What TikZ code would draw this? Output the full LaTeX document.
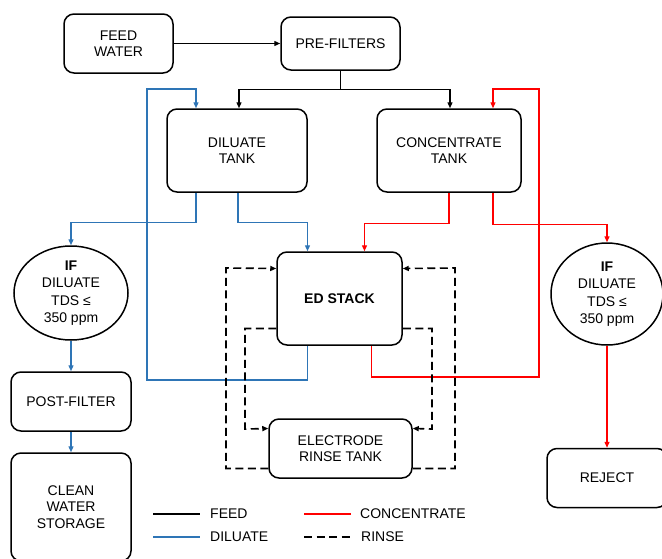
\documentclass[tikz,border=0pt]{standalone}
\usepackage{fontspec}
\setmainfont{Liberation Sans}
\usetikzlibrary{arrows.meta, shapes.geometric}
\definecolor{dilblue}{HTML}{2E75B6}
\definecolor{concred}{HTML}{FF0000}

\begin{document}
\begin{tikzpicture}[
					x=1pt, y=-1pt,
					box/.style={
						draw, rounded corners=10pt, line width=1.5pt, align=center,
						inner sep=0pt, font=\fontsize{14}{16.5}\selectfont
					},
					cond/.style={
						ellipse, draw, line width=1.5pt, align=center,
						inner sep=0pt, font=\fontsize{14}{17.3}\selectfont
					},
					feedln/.style={line width=1.3pt, -{Triangle[length=6pt,width=5pt]}},
					dilln/.style={line width=1.3pt, draw=dilblue, -{Triangle[length=6pt,width=5pt]}},
					concln/.style={line width=1.3pt, draw=concred, -{Triangle[length=6pt,width=5pt]}},
					rinseln/.style={line width=1.6pt, dash pattern=on 8pt off 4.5pt, -{Triangle[length=6pt,width=5pt]}},
					keylbl/.style={anchor=west, inner sep=0pt, font=\fontsize{14}{16}\selectfont}
					]
					\useasboundingbox (0,0) rectangle (662,558);
					\clip (0,0) rectangle (662,558);

					% tanks and treatment steps
					\node[box, minimum width=109pt, minimum height=59pt]
					(feed) at (118.5,43.5) {FEED\\WATER};
					\node[box, minimum width=119pt, minimum height=53pt]
					(pre) at (340.5,43.5) {PRE-FILTERS};
					\node[box, minimum width=140pt, minimum height=83pt]
					(dil) at (237,150.5) {DILUATE\\TANK};
					\node[box, minimum width=144pt, minimum height=83pt]
					(conc) at (449,150.5) {CONCENTRATE\\TANK};
					\node[box, minimum width=125pt, minimum height=93pt,
					font=\fontsize{14}{16.5}\selectfont\bfseries]
					(ed) at (339.5,298.5) {ED STACK};
					\node[box, minimum width=143pt, minimum height=59pt]
					(rinse) at (340.5,448.5) {ELECTRODE\\RINSE TANK};

					\node[cond, minimum width=114pt, minimum height=94pt]
					(ifl) at (71,293) {\textbf{IF}\\DILUATE\\TDS ≤\\350 ppm};
					\node[cond, minimum width=112pt, minimum height=102pt]
					(ifr) at (607,294) {\textbf{IF}\\DILUATE\\TDS ≤\\350 ppm};

					\node[box, minimum width=120pt, minimum height=59pt]
					(post) at (71,401.5) {POST-FILTER};
					\node[box, minimum width=120pt, minimum height=108pt]
					(clean) at (71,507) {CLEAN\\WATER\\STORAGE};
					\node[box, minimum width=120pt, minimum height=59pt]
					(rej) at (607,478) {REJECT};

					% feed
					\draw[feedln] (feed.east) -- (pre.west);
					\draw[feedln] (pre.south) -- ++(0,19) -| ([xshift=2pt]dil.north);
					\draw[feedln] (pre.south) -- ++(0,19) -| ([xshift=1pt]conc.north);

					% diluate
					\draw[dilln] ([xshift=-41pt]dil.south) -- ++(0,30) -| (ifl.north);
					\draw[dilln] ([xshift=1pt]dil.south) -- ++(0,30) -| ([xshift=-32pt]ed.north);
					\draw[dilln] ([xshift=-32pt]ed.south) |- (147,380) |- (196,89)
					-- ([xshift=-41pt]dil.north);
					\draw[dilln] (ifl.south) -- (post.north);
					\draw[dilln] (post.south) -- (clean.north);

					% concentrate
					\draw[concln] (conc.south) -- ++(0,31) -| ([xshift=25pt]ed.north);
					\draw[concln] ([xshift=44pt]conc.south) -- ++(0,32) -| (ifr.north);
					\draw[concln] ([xshift=32pt]ed.south) |- (539,377) |- (493,89)
					-- ([xshift=44pt]conc.north);
					\draw[concln] (ifr.south) -- (rej.north);

					% electrode rinse
					\draw[rinseln] ([yshift=-20pt]rinse.west) -| (226,268) -- ([yshift=30pt]ed.west);
					\draw[rinseln] ([yshift=-20pt]rinse.east) -| (455,268) -- ([yshift=30pt]ed.east);
					\draw[rinseln] ([yshift=-30pt]ed.west) -| (245,429) -- ([yshift=20pt]rinse.west);
					\draw[rinseln] ([yshift=-30pt]ed.east) -| (432,429) -- ([yshift=20pt]rinse.east);

					% key
					\node[keylbl] (kfeed) at (210,514) {FEED};
					\node[keylbl] (kconc) at (360,514) {CONCENTRATE};
					\node[keylbl] (kdil) at (210,537) {DILUATE};
					\node[keylbl] (krinse) at (361,537) {RINSE};
					\draw[feedln, -] ([xshift=-57pt]kfeed.west) -- ([xshift=-10pt]kfeed.west);
					\draw[concln, -] ([xshift=-56pt]kconc.west) -- ([xshift=-9pt]kconc.west);
					\draw[dilln, -] ([xshift=-57pt]kdil.west) -- ([xshift=-10pt]kdil.west);
					\draw[rinseln, -] ([xshift=-57pt]krinse.west) -- ([xshift=-10pt]krinse.west);
				\end{tikzpicture}
\end{document}
